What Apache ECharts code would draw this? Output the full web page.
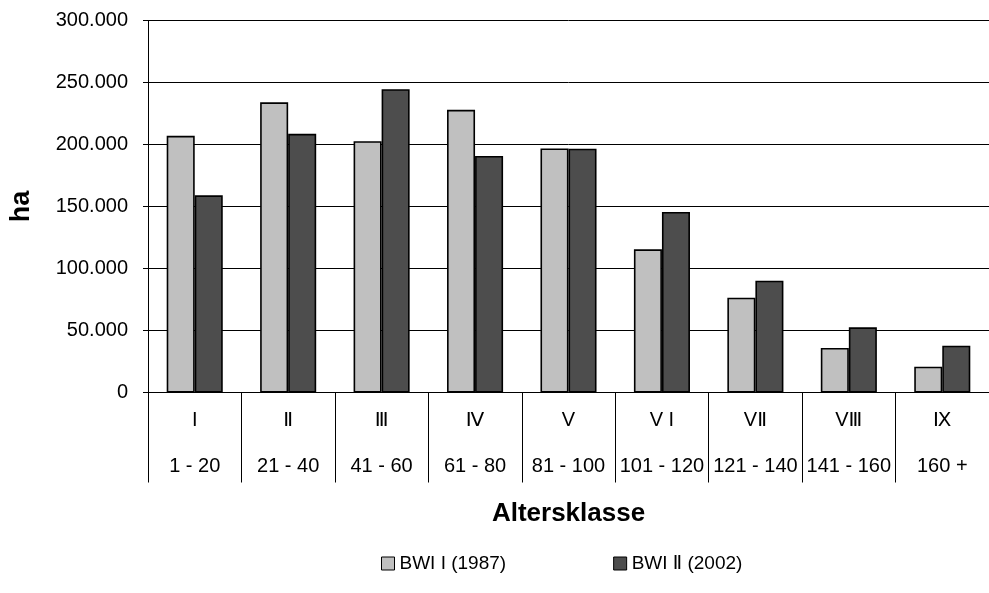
<!DOCTYPE html>
<html>
<head>
<meta charset="utf-8">
<script src="https://cdn.jsdelivr.net/npm/echarts@6/dist/echarts.min.js"></script>
<style>
html,body{margin:0;padding:0;background:#fff;}
#c{width:989px;height:593px;}
</style>
</head>
<body>
<div id="c"></div>
<script>
var classes = ['I', 'Ⅱ', 'Ⅲ', 'Ⅳ', 'V', 'V I', 'VⅡ', 'VⅢ', 'Ⅸ'];
var ranges = ['1 - 20', '21 - 40', '41 - 60', '61 - 80', '81 - 100', '101 - 120', '121 - 140', '141 - 160', '160 +'];
var bwi1 = [207000, 234000, 202700, 228000, 196800, 115500, 76500, 35900, 20800];
var bwi2 = [159000, 208600, 244600, 190800, 196600, 145600, 90200, 52600, 37800];
var yTicks = { min: 0, max: 300000, interval: 50000 };
var seriesNames = ['BWI I (1987)', 'BWI Ⅱ (2002)'];

var FONT = "'Liberation Sans', Arial, 'DejaVu Sans', sans-serif";
var cats = classes.map(function (c, i) { return c + '\n' + ranges[i]; });

var chart = echarts.init(document.getElementById('c'), null, { renderer: 'canvas' });
chart.setOption({
  backgroundColor: '#ffffff',
  animation: false,
  textStyle: { fontFamily: FONT, color: '#000' },
  grid: { left: 147, width: 849.6, top: 20.5, height: 372, containLabel: false },
  legend: {
    data: seriesNames,
    left: 376,
    top: 549,
    icon: 'rect',
    itemWidth: 13,
    itemHeight: 13,
    itemGap: 107,
    textStyle: { fontFamily: FONT, fontSize: 19, color: '#000' },
    itemStyle: { borderColor: '#000', borderWidth: 1 }
  },
  xAxis: {
    type: 'category',
    data: cats,
    name: 'Altersklasse',
    nameLocation: 'middle',
    nameGap: 108,
    nameTextStyle: { fontFamily: FONT, fontSize: 26, fontWeight: 'bold', color: '#000' },
    axisLine: { lineStyle: { color: '#000', width: 1 } },
    axisTick: { show: true, length: 90, interval: 0, alignWithLabel: false, lineStyle: { color: '#000', width: 1 } },
    axisLabel: {
      interval: 0,
      margin: 4.5,
      color: '#000',
      fontFamily: FONT,
      fontSize: 20,
      lineHeight: 46
    },
    splitLine: { show: false }
  },
  yAxis: {
    type: 'value',
    min: yTicks.min,
    max: yTicks.max,
    interval: yTicks.interval,
    name: 'ha',
    nameLocation: 'middle',
    nameRotate: 90,
    nameGap: 113,
    nameTextStyle: { fontFamily: FONT, fontSize: 27, fontWeight: 'bold', color: '#000' },
    axisLine: { show: true, lineStyle: { color: '#000', width: 1 } },
    axisTick: { show: true, length: 5, lineStyle: { color: '#000' } },
    axisLabel: {
      margin: 20,
      color: '#000',
      fontFamily: FONT,
      fontSize: 20,
      formatter: function (v) {
        return String(v).replace(/\B(?=(\d{3})+(?!\d))/g, '.');
      }
    },
    splitLine: { show: true, lineStyle: { color: '#000', width: 1 } }
  },
  series: [
    {
      name: seriesNames[0],
      type: 'bar',
      data: bwi1,
      barGap: '0%',
      barCategoryGap: '40%',
      itemStyle: { color: '#C0C0C0', borderColor: '#000', borderWidth: 1.6 }
    },
    {
      name: seriesNames[1],
      type: 'bar',
      data: bwi2,
      barGap: '0%',
      barCategoryGap: '40%',
      itemStyle: { color: '#4D4D4D', borderColor: '#000', borderWidth: 1.6 }
    }
  ]
});
</script>
</body>
</html>
